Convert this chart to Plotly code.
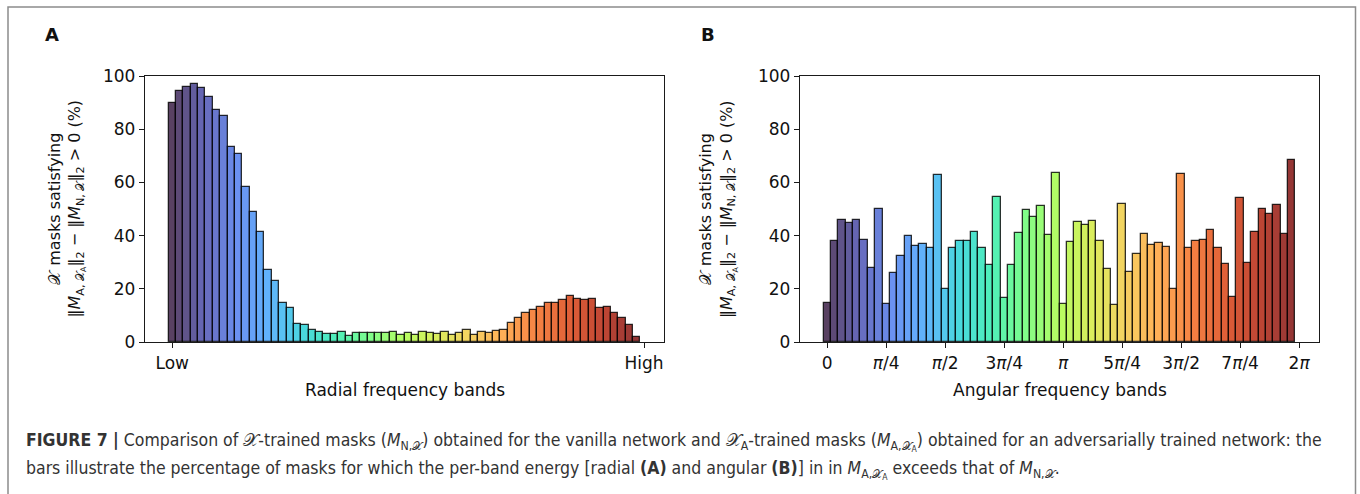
import plotly.graph_objects as go
import plotly.colors as pc

# ---------------- data ----------------
radial_values = [89.7, 94.4, 95.7, 97.0, 95.5, 92.2, 87.2, 84.9, 73.4, 70.5,
                 58.3, 48.8, 41.4, 26.9, 22.8, 14.8, 12.7, 6.9, 6.3, 4.4,
                 3.8, 2.9, 2.9, 3.8, 2.1, 3.4, 3.4, 3.4, 3.4, 3.4,
                 3.8, 2.5, 3.4, 2.7, 3.9, 3.5, 2.9, 3.9, 2.5, 3.5,
                 4.6, 2.6, 3.6, 3.3, 4.1, 4.4, 7.0, 9.2, 11.0, 12.0,
                 13.2, 14.8, 14.8, 15.7, 17.2, 16.1, 15.8, 16.3, 12.9, 13.0,
                 10.8, 9.0, 6.3, 1.8]
angular_values = [14.6, 37.8, 45.8, 44.8, 46.0, 38.2, 28.0, 50.1, 14.1, 25.8,
                  32.5, 40.0, 36.1, 36.9, 35.3, 62.6, 19.8, 35.3, 37.8, 37.8,
                  41.4, 35.3, 29.1, 54.5, 16.5, 29.1, 40.9, 49.5, 47.0, 51.3,
                  40.3, 63.5, 14.1, 37.6, 45.1, 43.9, 45.5, 37.8, 27.3, 13.8,
                  51.8, 26.3, 33.1, 40.6, 36.5, 37.1, 35.8, 19.9, 63.0, 35.4,
                  38.1, 38.3, 42.0, 35.4, 29.4, 16.9, 54.3, 29.8, 41.4, 50.1,
                  48.1, 51.6, 40.6, 68.4]
radial_tickvals = [0, 64]
radial_ticktext = ["Low", "High"]
angular_tickvals = [0, 8, 16, 24, 32, 40, 48, 56, 64]
angular_ticktext = ["0", "<i>π</i>/4", "<i>π</i>/2", "3<i>π</i>/4", "<i>π</i>",
                    "5<i>π</i>/4", "3<i>π</i>/2", "7<i>π</i>/4", "2<i>π</i>"]
y_tickvals = [0, 20, 40, 60, 80, 100]

W, H = 1360, 494
def px(x):
    return x / W
def py(y):
    return 1 - y / H

turbo = pc.make_colorscale(pc.sequential.Turbo)

def bar_colors(n, alpha=0.8):
    pts = [i / (n - 1) for i in range(n)]
    cols = pc.sample_colorscale(turbo, pts, colortype="tuple")
    out = []
    for c in cols:
        r, g, b = [v * 255 if v <= 1 else v for v in c]
        out.append(f"rgba({r:.0f},{g:.0f},{b:.0f},{alpha})")
    return out

fig = go.Figure()
fig.add_trace(go.Bar(
    x=list(range(len(radial_values))), y=radial_values, width=1,
    marker=dict(color=bar_colors(len(radial_values)),
                line=dict(color="rgba(0,0,0,0.8)", width=1.3)),
    xaxis="x", yaxis="y", showlegend=False, hoverinfo="y"))
fig.add_trace(go.Bar(
    x=list(range(len(angular_values))), y=angular_values, width=1,
    marker=dict(color=bar_colors(len(angular_values)),
                line=dict(color="rgba(0,0,0,0.8)", width=1.3)),
    xaxis="x2", yaxis="y2", showlegend=False, hoverinfo="y"))

axfont = dict(family="DejaVu Sans", size=17, color="#111")
common_x = dict(range=[-3.7, 66.7], showline=True, mirror=True, linecolor="#1a1a1a",
                linewidth=1.3, ticks="outside", ticklen=5, tickwidth=1.2, tickcolor="#1a1a1a",
                showgrid=False, zeroline=False, tickfont=axfont, tickmode="array",
                automargin=False)
common_y = dict(range=[0, 100], showline=True, mirror=True, linecolor="#1a1a1a",
                linewidth=1.3, ticks="outside", ticklen=5, tickwidth=1.2, tickcolor="#1a1a1a",
                showgrid=False, zeroline=False, tickfont=axfont, tickmode="array",
                tickvals=y_tickvals, automargin=False)

fig.update_layout(
    template="none",
    width=W, height=H, margin=dict(l=0, r=0, t=0, b=0, pad=0, autoexpand=False),
    paper_bgcolor="white", plot_bgcolor="white", bargap=0, showlegend=False,
    xaxis=dict(domain=[px(145), px(664)], anchor="y", tickvals=radial_tickvals,
               ticktext=radial_ticktext, **common_x),
    yaxis=dict(domain=[py(342), py(76)], anchor="x", **common_y),
    xaxis2=dict(domain=[px(800), px(1319)], anchor="y2", tickvals=angular_tickvals,
                ticktext=angular_ticktext, **common_x),
    yaxis2=dict(domain=[py(342), py(76)], anchor="x2", **common_y),
)

SX = "𝒳"
ytitle = (f"{SX} masks satisfying<br>"
          f"‖<i>M</i><sub>A, {SX}<sub>A</sub></sub>‖<sub>2</sub> − "
          f"‖<i>M</i><sub>N, {SX}</sub>‖<sub>2</sub> > 0 (%)")

anns = []
for cx in (66.5, 718):
    anns.append(dict(x=px(cx), y=py(209), xref="paper", yref="paper", text=ytitle,
                     textangle=-90, showarrow=False, xanchor="center", yanchor="middle",
                     font=dict(family="DejaVu Sans", size=16, color="#111")))
anns.append(dict(x=px(404.5), y=py(390), xref="paper", yref="paper",
                 text="Radial frequency bands", showarrow=False,
                 xanchor="center", yanchor="middle",
                 font=dict(family="DejaVu Sans", size=17, color="#111")))
anns.append(dict(x=px(1059.5), y=py(390), xref="paper", yref="paper",
                 text="Angular frequency bands", showarrow=False,
                 xanchor="center", yanchor="middle",
                 font=dict(family="DejaVu Sans", size=17, color="#111")))
for lab, cx in (("A", 52), ("B", 708)):
    anns.append(dict(x=px(cx), y=py(35), xref="paper", yref="paper",
                     text=f"<b>{lab}</b>", showarrow=False, xanchor="center", yanchor="middle",
                     font=dict(family="DejaVu Sans", size=18, color="#111")))

cap1 = (f"<b>FIGURE 7 |</b> Comparison of {SX}-trained masks (<i>M</i><sub>N,{SX}</sub>) "
        f"obtained for the vanilla network and {SX}<sub>A</sub>-trained masks "
        f"(<i>M</i><sub>A,{SX}<sub>A</sub></sub>) obtained for an adversarially trained network: the")
cap2 = (f"bars illustrate the percentage of masks for which the per-band energy [radial <b>(A)</b> "
        f"and angular <b>(B)</b>] in in <i>M</i><sub>A,{SX}<sub>A</sub></sub> exceeds that of "
        f"<i>M</i><sub>N,{SX}</sub>.")
capfont = dict(family="Liberation Sans Narrow, DejaVu Sans Condensed, Arial Narrow, sans-serif",
               size=17.5, color="#333")
anns.append(dict(x=px(24), y=py(442), xref="paper", yref="paper", text=cap1,
                 showarrow=False, xanchor="left", yanchor="middle", font=capfont))
anns.append(dict(x=px(24), y=py(470), xref="paper", yref="paper", text=cap2,
                 showarrow=False, xanchor="left", yanchor="middle", font=capfont))
fig.update_layout(annotations=anns)

fig.add_shape(type="rect", xref="paper", yref="paper",
              x0=px(8), x1=px(1355.5), y0=-0.2, y1=py(7),
              line=dict(color="#8c8c8c", width=1.5), fillcolor="rgba(0,0,0,0)", layer="below")

fig.write_html("out.html")
